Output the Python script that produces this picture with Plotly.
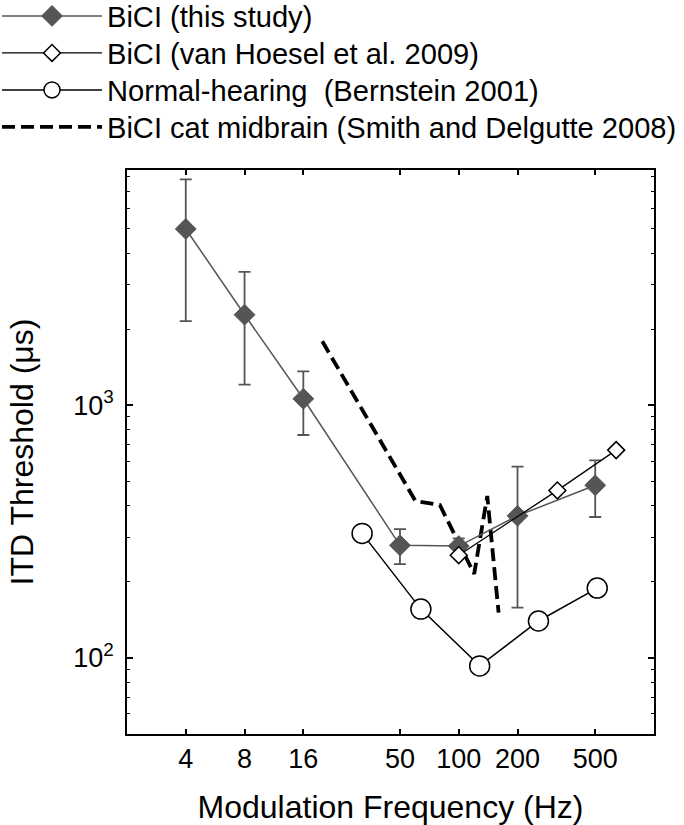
import math
import plotly.graph_objects as go

# ---- data ----
this_freq = [4, 8, 16, 50, 100, 200, 500]
this_thr = [4980, 2280, 1060, 279, 277, 365, 482]
this_hi = [7830, 3370, 1360, 323, 297, 571, 605]
this_lo = [2150, 1207, 762, 235, 258, 158, 361]

vh_freq = [100, 320, 640]
vh_thr = [255, 460, 664]

nh_freq = [32, 64, 128, 256, 512]
nh_thr = [311, 156, 93, 140, 189]

sd_freq = [20, 60, 80, 120, 140, 160]
sd_thr = [1790, 418, 403, 215, 437, 151]

x_ticks = [4, 8, 16, 50, 100, 200, 500]
x_ticktext = ["4", "8", "16", "50", "100", "200", "500"]
y_ticks = [100, 1000]
y_ticktext = ["10<sup>2</sup>", "10<sup>3</sup>"]
y_minor = [60, 70, 80, 90, 200, 300, 400, 500, 600, 700, 800, 900,
           2000, 3000, 4000, 5000, 6000, 7000, 8000]

FONT = "Liberation Sans, Arial, sans-serif"
GRAY = "#555555"

W, H = 684, 825
ml, mr, mt, mb = 127, 30, 170, 91
pw, ph = W - ml - mr, H - mt - mb


def px_x(p):
    return (p - ml) / pw


def px_y(p):
    return (H - mb - p) / ph


fig = go.Figure()

fig.add_trace(go.Scatter(
    x=sd_freq, y=sd_thr, mode="lines",
    name="BiCI cat midbrain (Smith and Delgutte 2008)",
    line=dict(color="black", width=3.8, dash="13px,6px"),
    legend="legend4",
))

fig.add_trace(go.Scatter(
    x=this_freq, y=this_thr, mode="lines+markers",
    name="BiCI (this study)",
    line=dict(color=GRAY, width=1.5),
    marker=dict(symbol="diamond", size=16, color=GRAY, line=dict(color=GRAY, width=1)),
    error_y=dict(type="data", symmetric=False,
                 array=[h - v for h, v in zip(this_hi, this_thr)],
                 arrayminus=[v - l for v, l in zip(this_thr, this_lo)],
                 color=GRAY, thickness=1.8, width=6),
    legend="legend",
))

fig.add_trace(go.Scatter(
    x=nh_freq, y=nh_thr, mode="lines+markers",
    name="Normal-hearing  (Bernstein 2001)",
    line=dict(color="black", width=1.5),
    marker=dict(symbol="circle", size=20, color="white", line=dict(color="black", width=1.5)),
    legend="legend3",
))

fig.add_trace(go.Scatter(
    x=vh_freq, y=vh_thr, mode="lines+markers",
    name="BiCI (van Hoesel et al. 2009)",
    line=dict(color="black", width=1.3),
    marker=dict(symbol="diamond", size=13, color="white", line=dict(color="black", width=1.5)),
    legend="legend2",
))


def legend_at(yc):
    return dict(
        x=px_x(-3), y=px_y(yc),
        xanchor="left", yanchor="middle",
        bgcolor="rgba(0,0,0,0)", borderwidth=0,
        font=dict(size=29.1, family=FONT, color="black"),
        itemwidth=100, itemclick=False, itemdoubleclick=False,
    )


fig.update_layout(
    width=W, height=H,
    margin=dict(l=ml, r=mr, t=mt, b=mb, autoexpand=False),
    paper_bgcolor="white", plot_bgcolor="white",
    font=dict(family=FONT, color="black"),
    showlegend=True,
    legend=legend_at(16),
    legend2=legend_at(53),
    legend3=legend_at(90),
    legend4=legend_at(127),
    xaxis=dict(
        type="log", range=[math.log10(2), math.log10(1000)],
        tickmode="array", tickvals=x_ticks, ticktext=x_ticktext,
        ticks="inside", ticklen=5, tickwidth=1.5, tickcolor="black",
        showline=True, linewidth=1.5, linecolor="black", mirror="ticks",
        showgrid=False, zeroline=False,
        tickfont=dict(size=27, family=FONT),
        title=dict(text="Modulation Frequency (Hz)", font=dict(size=32, family=FONT), standoff=22),
    ),
    yaxis=dict(
        type="log", range=[math.log10(50), 3.9305],
        tickmode="array", tickvals=y_ticks, ticktext=y_ticktext,
        ticks="inside", ticklen=6, tickwidth=1.5, tickcolor="black",
        ticklabelstandoff=6,
        minor=dict(tickmode="array", tickvals=y_minor, ticks="inside", ticklen=3.5,
                   tickwidth=1.3, tickcolor="black", showgrid=False),
        showline=True, linewidth=1.5, linecolor="black", mirror="ticks",
        showgrid=False, zeroline=False,
        tickfont=dict(size=27, family=FONT),
        title=dict(text="ITD Threshold (μs)", font=dict(size=32, family=FONT), standoff=30),
    ),
)

fig.write_html("out.html", config={"displayModeBar": False},
               post_script="document.body.style.margin='0px';")
